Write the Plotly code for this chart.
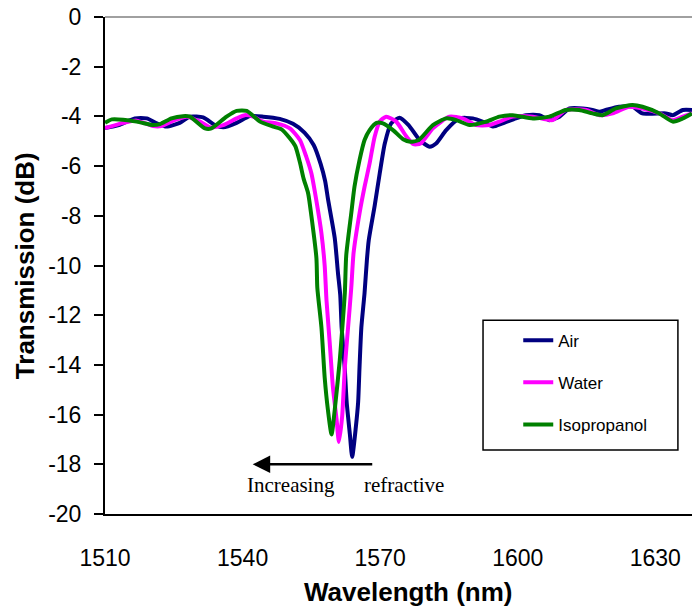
import plotly.graph_objects as go

air_wl = [1510, 1513, 1516.5, 1519.1, 1521.3, 1523.4, 1526.3, 1528.5, 1531.4, 1534.0, 1535.8, 1538.7,
          1541.6, 1544.5, 1548.1, 1551.0, 1553.5, 1555.5, 1557.0, 1558.0, 1558.6, 1560.1, 1560.8, 1561.3,
          1561.6, 1562.3, 1562.7, 1563.4, 1563.9, 1564.7, 1565.2, 1565.5, 1565.9, 1566.6, 1567.1, 1567.5,
          1568.8, 1569.9, 1571.0, 1572.4, 1574.2, 1576.2, 1578.6, 1580.8, 1582.2, 1584.4, 1587.3, 1590.2,
          1592.3, 1594.6, 1596.7, 1599.6, 1601.8, 1604.7, 1606.9, 1609.1, 1611.3, 1614.2, 1616.3, 1617.8,
          1619.2, 1622.1, 1625.0, 1627.2, 1632.3, 1633.8, 1636.0, 1638.0]
air_db = [-4.47, -4.35, -4.08, -4.08, -4.28, -4.41, -4.26, -4.01, -4.04, -4.35, -4.44, -4.26,
          -3.99, -4.01, -4.10, -4.30, -4.65, -5.15, -5.9, -6.6, -7.3, -8.9, -10.3, -11.2,
          -12.5, -14.2, -15.5, -16.8, -17.7, -16.5, -15.5, -14.1, -12.5, -11.1, -9.8, -9.0,
          -7.6, -6.3, -5.1, -4.28, -4.05, -4.35, -4.95, -5.22, -5.09, -4.55, -4.08, -4.08,
          -4.21, -4.41, -4.28, -4.08, -3.95, -3.95, -4.15, -4.01, -3.68, -3.68, -3.74, -3.81,
          -3.74, -3.61, -3.61, -3.88, -3.88, -3.95, -3.74, -3.74]

water_wl = [1510, 1514, 1516.9, 1520.5, 1522.3, 1524.9, 1527.8, 1530.7, 1532.9, 1535.8, 1538.7, 1540.5,
            1542.3, 1544.5, 1547.4, 1550.3, 1552.5, 1553.9, 1555.0, 1556.1, 1557.2, 1557.9, 1558.3, 1559.0,
            1559.7, 1560.5, 1561.0, 1561.7, 1562.3, 1563.0, 1563.7, 1564.2, 1565.5, 1566.6, 1567.7, 1568.8,
            1569.9, 1571.3, 1573.5, 1575.7, 1577.3, 1578.8, 1581.5, 1585.1, 1588.0, 1590.9, 1593.8, 1596.0,
            1598.9, 1603.3, 1607.6, 1610.5, 1614.9, 1617.8, 1620.7, 1624.3, 1627.2, 1630.9, 1633.8, 1636.0,
            1638.0]
water_db = [-4.47, -4.26, -4.17, -4.39, -4.39, -4.17, -4.01, -4.21, -4.44, -4.35, -4.08, -3.95,
            -4.01, -4.21, -4.28, -4.48, -4.95, -5.63, -6.29, -7.4, -8.71, -10.0, -11.4, -13.1,
            -14.9, -16.2, -17.1, -16.1, -14.1, -12.5, -10.9, -9.5, -7.9, -6.83, -5.89, -4.82,
            -4.21, -4.01, -4.21, -4.80, -5.12, -5.09, -4.48, -4.01, -4.08, -4.35, -4.35, -4.21,
            -4.01, -4.01, -4.15, -3.74, -3.74, -3.95, -3.88, -3.61, -3.68, -3.88, -4.15, -4.01,
            -3.88]

iso_wl = [1510, 1511.5, 1516.9, 1520.5, 1522.0, 1524.5, 1527.0, 1528.5, 1531.8, 1533.2, 1536.5, 1538.7,
          1540.9, 1543.8, 1546.7, 1548.5, 1550.3, 1551.5, 1552.5, 1553.3, 1554.3, 1555.0, 1556.1, 1556.3,
          1557.2, 1557.9, 1558.6, 1559.4, 1560.1, 1561.2, 1561.5, 1562.3, 1562.6, 1563.7, 1564.4, 1565.5,
          1566.6, 1567.7, 1569.2, 1570.6, 1572.8, 1575.0, 1576.6, 1578.4, 1581.5, 1584.4, 1586.6, 1589.5,
          1593.1, 1596.0, 1598.9, 1603.3, 1606.9, 1610.5, 1613.4, 1616.3, 1618.5, 1621.4, 1625.0, 1627.2,
          1630.9, 1633.8, 1636.0, 1638.0]
iso_db = [-4.26, -4.12, -4.21, -4.35, -4.31, -4.08, -3.99, -4.01, -4.48, -4.48, -4.01, -3.78,
          -3.78, -4.21, -4.41, -4.52, -4.88, -5.2, -5.85, -6.5, -7.1, -8.0, -9.7, -10.9,
          -12.5, -14.5, -15.8, -16.8, -15.8, -13.8, -13.1, -11.1, -9.6, -7.9, -6.83, -5.76,
          -4.95, -4.55, -4.26, -4.28, -4.55, -4.92, -5.02, -4.95, -4.35, -4.08, -4.15, -4.35,
          -4.21, -4.01, -3.95, -4.08, -4.01, -3.74, -3.74, -3.88, -3.95, -3.68, -3.54, -3.61,
          -3.88, -4.21, -4.08, -3.88]

series_names = ["Air", "Water", "Isopropanol"]
series_colors = ["#000080", "#FF00FF", "#008000"]
x_ticks = [1510, 1540, 1570, 1600, 1630]
y_ticks = [0, -2, -4, -6, -8, -10, -12, -14, -16, -18, -20]

fig = go.Figure()
for name, color, xs, ys in zip(series_names, series_colors,
                               [air_wl, water_wl, iso_wl], [air_db, water_db, iso_db]):
    fig.add_trace(go.Scatter(x=xs, y=ys, mode="lines", name=name, legendgroup=name,
                             line=dict(color=color, width=4, shape="spline", smoothing=0.6)))

fig.update_layout(
    width=692, height=608,
    margin=dict(l=105, r=0, t=17, b=94),
    paper_bgcolor="white", plot_bgcolor="white",
    font=dict(family="Liberation Sans, Arial", color="black"),
    showlegend=True,
    legend=dict(x=0.704, y=0.385, xanchor="left", yanchor="top",
                font=dict(size=17, family="Liberation Sans, Arial", color="black"),
                bgcolor="rgba(0,0,0,0)", borderwidth=0, tracegroupgap=17),
    xaxis=dict(range=[1510, 1638], tickvals=x_ticks, ticktext=[str(v) for v in x_ticks],
               showgrid=False, zeroline=False, showline=True, linecolor="black", linewidth=2,
               ticks="", tickfont=dict(size=23), ticklabelstandoff=22),
    yaxis=dict(range=[-20, 0], tickvals=y_ticks, ticktext=[str(v) for v in y_ticks],
               showgrid=False, zeroline=False, showline=True, linecolor="black", linewidth=2,
               ticks="outside", ticklen=9, tickwidth=1.5, tickcolor="black",
               tickfont=dict(size=23), ticklabelstandoff=8),
    shapes=[
        dict(type="line", xref="paper", yref="paper", x0=0, x1=1, y0=1, y1=1,
             line=dict(color="#808080", width=1.5)),
        dict(type="rect", xref="paper", yref="paper", x0=0.644, x1=0.976, y0=0.129, y1=0.390,
             line=dict(color="black", width=1.5), fillcolor="rgba(0,0,0,0)"),
    ],
    annotations=[
        dict(text="<b>Wavelength (nm)</b>", xref="paper", yref="paper", x=0.516, y=-0.157,
             showarrow=False, font=dict(size=26), xanchor="center", yanchor="middle"),
        dict(text="<b>Transmission (dB)</b>", xref="paper", yref="paper", x=-0.136, y=0.499,
             showarrow=False, font=dict(size=26), textangle=-90, xanchor="center", yanchor="middle"),
        dict(text="", x=1542.2, y=-18.0, ax=1568.6, ay=-18.0, xref="x", yref="y",
             axref="x", ayref="y", showarrow=True, arrowhead=2, arrowsize=1.4, arrowwidth=2.5,
             arrowcolor="black"),
        dict(text="Increasing", x=1550.5, y=-18.85, xref="x", yref="y", showarrow=False,
             font=dict(size=21, family="Liberation Serif, Times New Roman")),
        dict(text="refractive", x=1575.3, y=-18.85, xref="x", yref="y", showarrow=False,
             font=dict(size=21, family="Liberation Serif, Times New Roman")),
    ],
)

fig.write_html("out.html")
